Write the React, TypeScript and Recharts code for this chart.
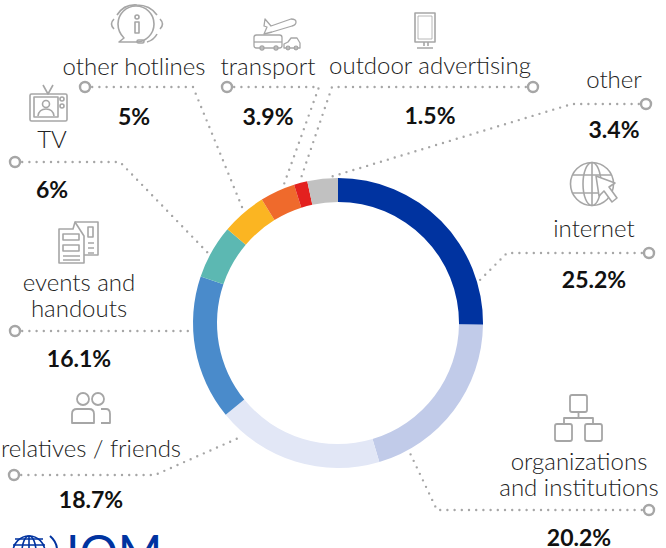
import { Pie, PieChart } from "recharts";

const CHANNELS = [
  "internet",
  "organizations and institutions",
  "relatives / friends",
  "events and handouts",
  "TV",
  "other hotlines",
  "transport",
  "outdoor advertising",
  "other",
];
const SHARES = [25.2, 20.2, 18.7, 16.1, 6, 5, 3.9, 1.5, 3.4];
const SLICE_COLORS = ["#0033a0", "#c1cbe9", "#e2e7f6", "#4a8bcb", "#5cb8b2", "#fbb522", "#ef6a2c", "#e3211f", "#c1c1c1"];

const GREY = "#a6a6a6";
const TEXT_FONT = "Lato, sans-serif";
const LABEL_SIZE = 24;

// annotation layout, one entry per channel, same order as CHANNELS
const CALLOUTS = [
  { lines: ["internet"], x: 594, baselines: [237], pctY: 288, leader: "649,253 507,253 477,283" },
  { lines: ["organizations", "and institutions"], x: 579, baselines: [470, 496], pctY: 546, leader: "649,510 437,510 409,451" },
  { lines: ["relatives / friends"], x: 91, baselines: [457], pctY: 508, leader: "14,475 155,475 243,436" },
  { lines: ["events and", "handouts"], x: 79, baselines: [291, 317], pctY: 367, leader: "15,331 192,331" },
  { lines: ["TV"], x: 52, baselines: [148], pctY: 198, leader: "15,162 120,162 209,254" },
  { lines: ["other hotlines"], x: 134, baselines: [75], pctY: 125, leader: "85,87 193,87 242,207" },
  { lines: ["transport"], x: 268, baselines: [75], pctY: 125, leader: "227,87 319,87 283,187" },
  { lines: ["outdoor advertising"], x: 430, baselines: [74], pctY: 124, leader: "533,87 332,87 300,181" },
  { lines: ["other"], x: 614, baselines: [88], pctY: 138, leader: "646,104 572,104 327,178" },
];

const iconProps = { fill: "none", stroke: GREY, strokeWidth: 1.6, strokeLinejoin: "round" as const };

const ICONS = [
  // internet
  <g {...iconProps} key="internet">
    <circle cx={592} cy={184} r={21.5} />
    <ellipse cx={592} cy={184} rx={9} ry={21.5} />
    <path d="M572 175h40M572 193h28M592 163v42" />
    <path d="M596 176l19 7-6 4 8 11-5 4-8-11-5 5z" fill="#fff" />
  </g>,
  // organizations
  <g {...iconProps} strokeWidth={1.8} key="orgs">
    <rect x={570} y={395} width={17} height={17} rx={2} />
    <rect x={555} y={424} width={17} height={17} rx={2} />
    <rect x={585} y={424} width={17} height={17} rx={2} />
    <path d="M578.5 412v6M564 424v-6h29v6" />
  </g>,
  // relatives / friends
  <g {...iconProps} strokeWidth={1.8} key="friends">
    <circle cx={83} cy={399} r={6} />
    <circle cx={98} cy={399} r={6} />
    <path d="M72 423v-9q0-5 5-5h12q5 0 5 5v9zM101 409h5q4 0 4 5v9h-9" />
  </g>,
  // events and handouts
  <g {...iconProps} key="handouts">
    <path d="M73 229h-14v34h25v-27l-9-14z" />
    <path d="M75 222h23v33h-14" />
    <rect x={63} y={234} width={16} height={6} />
    <rect x={63} y={245} width={16} height={6} />
    <path d="M63 256h17M63 260h17M88 227h5v10h-5zM88 243h6M88 248h6M88 253h6" />
  </g>,
  // TV
  <g {...iconProps} key="tv">
    <rect x={30} y={94} width={37} height={27} rx={1.5} />
    <rect x={34} y={97} width={24} height={20} />
    <circle cx={62} cy={99} r={2} />
    <circle cx={62} cy={106} r={2} />
    <path d="M43 85l5 9 5-9" />
    <circle cx={46} cy={104} r={3.5} />
    <path d="M38 116q1-7 8-7t8 7" />
  </g>,
  // other hotlines
  <g {...iconProps} key="hotlines">
    <path d="M124 38q-6-6-6-14a18 18 0 1 1 18 18h-14l-0 0-3 0z" />
    <path d="M114 29q-5-5 0-10M160 19q5 5 0 10M117 15q7-11 20-10q13 0 20 10M157 34q-3 6-10 8" />
    <rect x={135} y={22} width={4} height={11} />
    <circle cx={137} cy={17} r={2} />
    <rect x={137} y={40} width={7} height={3} rx={1.5} />
  </g>,
  // transport
  <g {...iconProps} strokeWidth={1.3} key="transport">
    <path d="M265 19l6 7 20-7q5 0 5 3t-4 4l-20 6-8 2 3-7-3-1z" />
    <rect x={254} y={35} width={28} height={13} rx={2.5} />
    <path d="M254 42h28" />
    <circle cx={262} cy={48} r={2} />
    <circle cx={276} cy={48} r={2} />
    <path d="M284 48v-4l4-2 3-4h6l3 5v5z" />
    <circle cx={288} cy={48} r={1.8} />
    <circle cx={296} cy={48} r={1.8} />
  </g>,
  // outdoor advertising
  <g {...iconProps} key="outdoor">
    <rect x={415} y={13} width={20} height={29} />
    <rect x={418} y={16} width={14} height={23} strokeWidth={0.8} />
    <path d="M424 42v4M428 42v4M417 48h16" />
  </g>,
  null,
];

function Callout({ index, value }: { index?: number; value?: number }) {
  const i = index ?? 0;
  const c = CALLOUTS[i];
  const start = c.leader.split(" ")[0].split(",").map(Number);
  return (
    <g>
      <polyline
        points={c.leader}
        fill="none"
        stroke={GREY}
        strokeWidth={2.4}
        strokeLinecap="round"
        strokeDasharray="0 7.2"
      />
      <circle cx={start[0]} cy={start[1]} r={5} fill="#fff" stroke={GREY} strokeWidth={2.4} />
      {ICONS[i]}
      {c.lines.map((line, n) => (
        <text
          key={line}
          x={c.x}
          y={c.baselines[n]}
          textAnchor="middle"
          fontFamily={TEXT_FONT}
          fontWeight={300}
          fontSize={LABEL_SIZE}
          fill="#222"
        >
          {line}
        </text>
      ))}
      <text x={c.x} y={c.pctY} textAnchor="middle" fontFamily={TEXT_FONT} fontWeight={700} fontSize={23} fill="#111">
        {value}%
      </text>
    </g>
  );
}

function Logo() {
  const blue = "#0033a0";
  return (
    <g>
      <g fill="none" stroke={blue} strokeWidth={1.6}>
        <circle cx={29} cy={552} r={16} />
        <ellipse cx={29} cy={552} rx={7} ry={16} />
        <path d="M13 545h32M15 539h28M29 536v16" />
        <path d="M50 536q7 6 7 14" strokeWidth={2} />
      </g>
      <text x={66} y={570} fontFamily={TEXT_FONT} fontWeight={400} fontSize={48} fill={blue}>
        IOM
      </text>
    </g>
  );
}

export default function App() {
  const data = CHANNELS.map((name, i) => ({ name, value: SHARES[i], fill: SLICE_COLORS[i] }));
  return (
    <div style={{ position: "absolute", left: 0, top: 0, width: 666, height: 548, overflow: "hidden", background: "#fff" }}>
      <PieChart width={666} height={548} margin={{ top: 0, right: 0, bottom: 0, left: 0 }}>
        <Pie
          data={data}
          dataKey="value"
          nameKey="name"
          cx={338}
          cy={323}
          innerRadius={121}
          outerRadius={145}
          startAngle={90}
          endAngle={-270}
          stroke="none"
          label={(props: any) => <Callout index={props.index} value={props.value} />}
          labelLine={false}
          isAnimationActive={false}
        />
        <Logo />
      </PieChart>
    </div>
  );
}
